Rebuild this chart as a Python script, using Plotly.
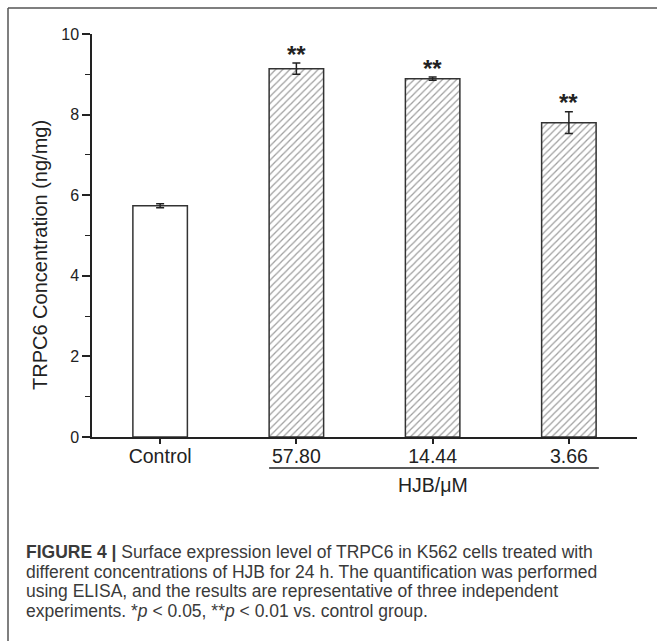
import plotly.graph_objects as go

categories = ["Control", "57.80", "14.44", "3.66"]
values = [5.74, 9.14, 8.89, 7.80]
errors = [0.05, 0.14, 0.04, 0.27]
significance = ["", "**", "**", "**"]
patterns = ["", "/", "/", "/"]
y_ticks = [0, 2, 4, 6, 8, 10]
group_label = "HJB/μM"
y_title = "TRPC6 Concentration (ng/mg)"
caption_lines = [
    "<b>FIGURE 4 |</b> Surface expression level of TRPC6 in K562 cells treated with",
    "different concentrations of HJB for 24 h. The quantification was performed",
    "using ELISA, and the results are representative of three independent",
    "experiments. *<i>p</i> &lt; 0.05, **<i>p</i> &lt; 0.01 vs. control group.",
]

W, H = 657, 641
L, R, T, B = 92, 20, 34, 204
pw, ph = W - L - R, H - T - B
FONT = "Liberation Sans, Arial, sans-serif"


def px(x):
    return (x - L) / pw


def py(y):
    return (H - B - y) / ph


xs = list(range(len(categories)))

fig = go.Figure()
fig.add_trace(go.Bar(
    x=xs, y=values, width=0.4,
    marker=dict(
        color="white",
        line=dict(color="#333333", width=1.5),
        pattern=dict(shape=patterns, fgcolor="#3f3f3f", bgcolor="white",
                     size=5, solidity=0.25),
    ),
    error_y=dict(type="data", array=errors, visible=True, color="#222222",
                 thickness=1.5, width=4),
    showlegend=False,
    hoverinfo="skip",
))

annotations = []
for x, v, e, s in zip(xs, values, errors, significance):
    if s:
        annotations.append(dict(x=x, y=v + e, xref="x", yref="y", text="<b>" + s + "</b>",
                                showarrow=False, yanchor="middle", yshift=9,
                                font=dict(size=24, color="#222222", family=FONT)))

annotations.append(dict(x=2, y=py(485), xref="x", yref="paper", text=group_label,
                        showarrow=False, yanchor="middle",
                        font=dict(size=19.5, color="#222222", family=FONT)))

annotations.append(dict(x=px(40), y=py(255), xref="paper", yref="paper", text=y_title,
                        showarrow=False, textangle=-90, xanchor="center", yanchor="middle",
                        font=dict(size=20, color="#222222", family=FONT)))

line_y = [552, 571.5, 591, 610.5]
for txt, yy in zip(caption_lines, line_y):
    annotations.append(dict(x=px(24), y=py(yy), xref="paper", yref="paper",
                            text=txt, showarrow=False, xanchor="left", yanchor="middle",
                            font=dict(size=17.5, color="#3a3a3a", family=FONT)))

shapes = [
    dict(type="line", xref="paper", yref="paper", x0=px(8), x1=px(657),
         y0=py(8), y1=py(8), line=dict(color="#555555", width=1.5)),
    dict(type="line", xref="paper", yref="paper", x0=px(8), x1=px(8),
         y0=py(8), y1=py(641), line=dict(color="#555555", width=1.5)),
    dict(type="line", xref="x", yref="paper", x0=0.8, x1=3.22,
         y0=py(468), y1=py(468), line=dict(color="#222222", width=1.5)),
]

fig.update_layout(
    width=W, height=H,
    margin=dict(l=L, r=R, t=T, b=B, pad=0, autoexpand=False),
    paper_bgcolor="white", plot_bgcolor="white",
    font=dict(family=FONT, color="#222222"),
    annotations=annotations, shapes=shapes,
    xaxis=dict(range=[-0.5, 3.5], tickvals=xs, ticktext=categories,
               showline=True, linecolor="#222222", linewidth=1.5,
               ticks="outside", ticklen=5, tickwidth=1.5, tickcolor="#222222",
               ticklabelstandoff=-4,
               tickfont=dict(size=19.5, color="#222222"), showgrid=False,
               zeroline=False, fixedrange=True, automargin=False),
    yaxis=dict(range=[0, 10], tickvals=y_ticks,
               showline=True, linecolor="#222222", linewidth=1.5,
               ticks="outside", ticklen=8, tickwidth=1.5, tickcolor="#222222",
               tickfont=dict(size=16, color="#222222"), showgrid=False,
               zeroline=False, automargin=False, fixedrange=True,
               minor=dict(dtick=1, ticks="outside", ticklen=5, tickwidth=1.2,
                          tickcolor="#222222", showgrid=False)),
)

fig.write_html("out.html", config={"displayModeBar": False},
               post_script="document.body.style.margin='0';")
